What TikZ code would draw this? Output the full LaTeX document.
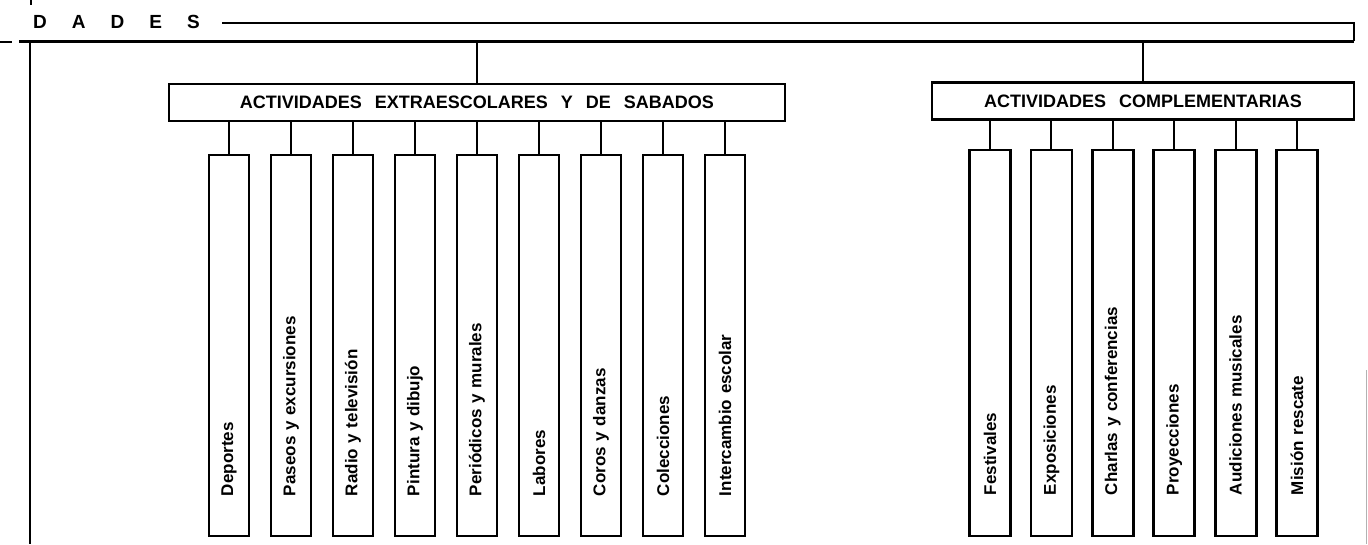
\documentclass[tikz,border=0pt]{standalone}
\usepackage{fontspec}
\setmainfont{Liberation Sans}
\begin{document}
\begin{tikzpicture}[x=1pt,y=-1pt,
    grupo/.style={draw,line width=2.8pt,minimum height=37pt,inner sep=0pt,
      font=\bfseries\fontsize{18}{20}\selectfont},
    hoja/.style={draw,line width=2.8pt,rotate=90,minimum height=40pt,
      inner ysep=0pt,align=left,font=\bfseries\fontsize{17}{20}\selectfont},
    rama/.style={line width=2pt}]
  \useasboundingbox (0,0) rectangle (1368,544);
  % cabecera
  \node[anchor=base west,inner sep=0pt,font=\bfseries\fontsize{19}{20}\selectfont]
    (titulo) at (33,28) {\spaceskip=25pt\relax D A D E S};
  \coordinate (banda) at (0,41);
  \draw[line width=2pt] (222,23) -- (1354,23) -- (1354,41);
  \draw[line width=3pt] (19,41) -- (1354,41);
  \draw[line width=2.8pt] (30,41) -- (30,544);
  \draw[line width=1.4pt] (31,0) -- (31,5);
  \draw[line width=1.8pt] (0,42) -- (12,42);
  \draw[gray!60,line width=0.6pt] (1366,370) -- (1366,544);
  % grupos
  \node[grupo,minimum width=616pt] (ext) at (477,102.5)
    {\spaceskip=13pt\relax ACTIVIDADES EXTRAESCOLARES Y DE SABADOS};
  \node[grupo,minimum width=422pt] (comp) at (1143,101)
    {\spaceskip=13pt\relax ACTIVIDADES COMPLEMENTARIAS};
  \draw[rama] (ext.north) -- (ext.north |- banda);
  \draw[rama] (comp.north) -- (comp.north |- banda);
  % actividades
  \foreach \t [count=\i] in {Deportes,Paseos y excursiones,Radio y televisión,
      Pintura y dibujo,Periódicos y murales,Labores,Coros y danzas,Colecciones,
      Intercambio escolar}
    \node[hoja,minimum width=381pt,inner xsep=40pt,text width=301pt]
      (e\i) at ({229+62*(\i-1)},345.5) {\t};
  \foreach \t [count=\i] in {Festivales,Exposiciones,Charlas y conferencias,
      Proyecciones,Audiciones musicales,Misión rescate}
    \node[hoja,minimum width=386pt,inner xsep=41pt,text width=304pt,minimum height=41pt]
      (c\i) at ({990+61.4*(\i-1)},343) {\t};
  \foreach \i in {1,...,9}
    \draw[rama] (e\i.east) -- (e\i.east |- ext.south);
  \foreach \i in {1,...,6}
    \draw[rama] (c\i.east) -- (c\i.east |- comp.south);
\end{tikzpicture}
\end{document}
